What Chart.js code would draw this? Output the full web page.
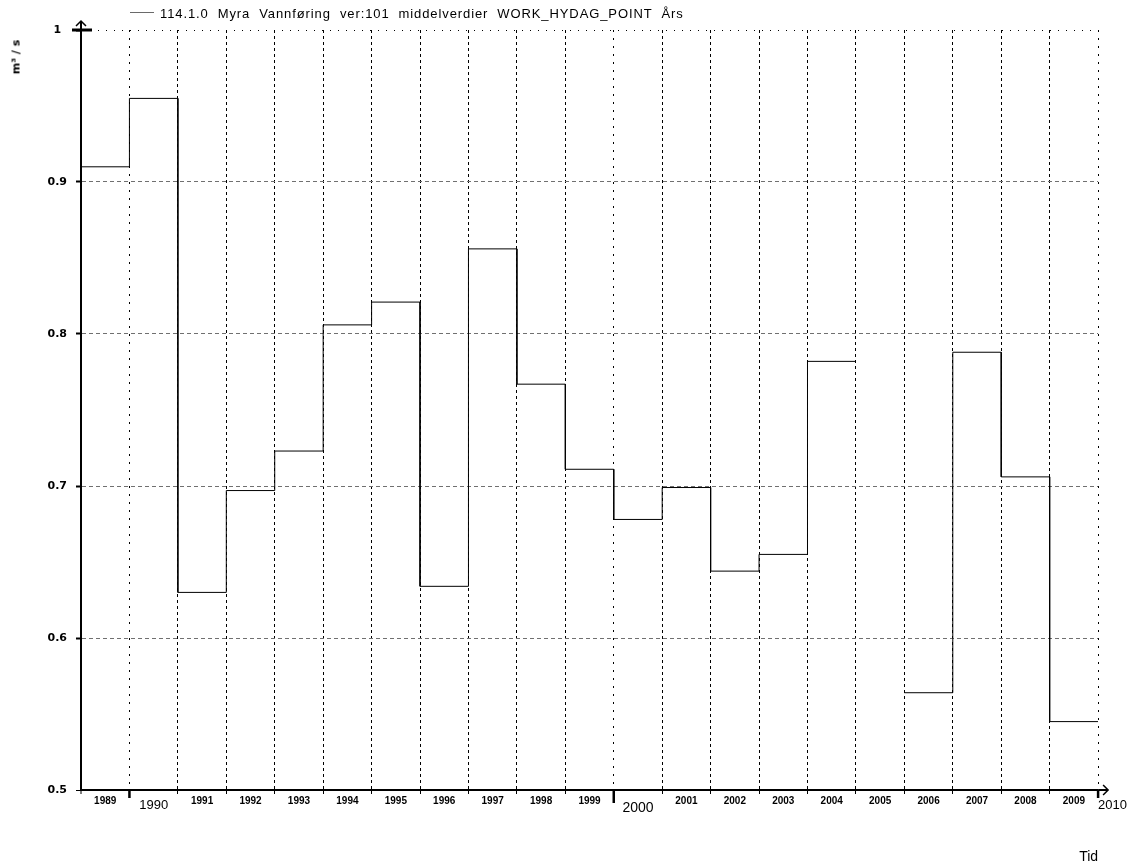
<!DOCTYPE html>
<html>
<head>
<meta charset="utf-8">
<title>114.1.0 Myra Vannføring</title>
<script src="https://cdn.jsdelivr.net/npm/chart.js@4/dist/chart.umd.min.js"></script>
<style>
  body { margin: 0; background: #fff; }
  #wrap { position: relative; width: 1128px; height: 867px; }
  #chart { position: absolute; left: 0; top: 0; }
  #legend-line { position: absolute; left: 130px; top: 12px; width: 24px; height: 1px; background: #6a6a6a; }
  #legend-text { position: absolute; left: 160px; top: 6px; font: 13px 'Liberation Sans', Arial, sans-serif;
                 letter-spacing: 0.9px; line-height: 15px; white-space: pre; color: #000; }
  #unit { position: absolute; left: 16px; top: 57px; font: bold 11px 'DejaVu Sans', sans-serif; white-space: pre;
          color: #000; transform: translate(-50%, -50%) rotate(-90deg); }
</style>
</head>
<body>
<div id="wrap">
  <canvas id="chart" width="1128" height="867"></canvas>
  <div id="legend-line"></div>
  <div id="legend-text">114.1.0  Myra  Vannføring  ver:101  middelverdier  WORK_HYDAG_POINT  Års</div>
  <div id="unit">m³ / s</div>
</div>
<script>
// Annual mean discharge, one value per year (2005 has no value)
const years = [1989, 1990, 1991, 1992, 1993, 1994, 1995, 1996, 1997, 1998, 1999,
               2000, 2001, 2002, 2003, 2004, 2005, 2006, 2007, 2008, 2009];
const flows = [0.910, 0.955, 0.630, 0.697, 0.723, 0.806, 0.821, 0.634, 0.856, 0.767, 0.711,
               0.678, 0.699, 0.644, 0.655, 0.782, null, 0.564, 0.788, 0.706, 0.545];
const yearLabels = years.map(String);
const lastYear = 2010;
const lastYearLabel = '2010';
const decadeYears = [1990, 2000, 2010];
const yTickLabels = ['0.5', '0.6', '0.7', '0.8', '0.9', '1'];
const yMin = 0.5, yMax = 1, yStep = 0.1;

// Each annual value is held constant over its year: one point at the start, one at the end.
const stepPoints = [];
years.forEach((yr, i) => {
  const v = flows[i];
  if (v === null) { stepPoints.push({ x: yr, y: null }); return; }
  stepPoints.push({ x: yr, y: v }, { x: yr + 1, y: v });
});

const isDecade = v => decadeYears.includes(v);
const isHalf = v => !Number.isInteger(v);

// Axis arrows and the heavier ticks at decades and at the top of the value axis
const axisDecor = {
  id: 'axisDecor',
  afterDraw(chart) {
    const { ctx, scales: { x, y } } = chart;
    const x0 = x.getPixelForValue(years[0]);
    const xr = x.getPixelForValue(lastYear);
    const yb = y.getPixelForValue(yMin);
    const yt = y.getPixelForValue(yMax);
    ctx.save();
    ctx.strokeStyle = '#000';
    ctx.lineCap = 'butt';
    // value axis extension + arrow
    ctx.lineWidth = 2;
    ctx.beginPath(); ctx.moveTo(x0, yt); ctx.lineTo(x0, yt - 9); ctx.stroke();
    ctx.lineWidth = 1.5;
    ctx.beginPath(); ctx.moveTo(x0 - 5, yt - 4); ctx.lineTo(x0, yt - 9); ctx.lineTo(x0 + 5, yt - 4); ctx.stroke();
    // heavy tick at the top value
    ctx.lineWidth = 3;
    ctx.beginPath(); ctx.moveTo(x0 - 9, yt); ctx.lineTo(x0 + 11, yt); ctx.stroke();
    // time axis extension + arrow
    ctx.lineWidth = 2;
    ctx.beginPath(); ctx.moveTo(xr, yb); ctx.lineTo(xr + 10, yb); ctx.stroke();
    ctx.lineWidth = 1.5;
    ctx.beginPath(); ctx.moveTo(xr + 5, yb - 5); ctx.lineTo(xr + 10, yb); ctx.lineTo(xr + 5, yb + 5); ctx.stroke();
    // decade ticks
    ctx.lineWidth = 2.5;
    decadeYears.forEach(d => {
      const px = x.getPixelForValue(d);
      const depth = d === 2000 ? 13 : 8;
      ctx.beginPath(); ctx.moveTo(px, yb); ctx.lineTo(px, yb + depth); ctx.stroke();
    });
    ctx.restore();
  }
};

new Chart(document.getElementById('chart'), {
  type: 'line',
  data: {
    datasets: [{
      label: '114.1.0 Myra Vannføring ver:101 middelverdier WORK_HYDAG_POINT Års',
      data: stepPoints,
      borderColor: '#000',
      borderWidth: 1,
      pointRadius: 0,
      tension: 0,
      spanGaps: false,
      fill: false
    }]
  },
  options: {
    responsive: false,
    animation: false,
    events: [],
    layout: { padding: { top: 30, right: 29, left: 0, bottom: 0 } },
    plugins: { legend: { display: false }, tooltip: { enabled: false } },
    scales: {
      x: {
        type: 'linear',
        position: 'bottom',
        min: years[0],
        max: lastYear,
        afterBuildTicks(scale) {
          const t = [];
          for (let yr = years[0]; yr <= lastYear; yr++) {
            t.push({ value: yr });
            if (yr < lastYear) t.push({ value: yr + 0.5 });
          }
          scale.ticks = t;
        },
        afterFit(scale) { scale.height = 77; },
        border: {
          display: true, color: '#000', width: 2,
          dash(ctx) {
            const v = ctx.tick ? ctx.tick.value : null;
            if (v !== null && isDecade(v)) return [2, 6];
            return [3, 3];
          }
        },
        grid: {
          drawOnChartArea: true,
          drawTicks: true,
          tickLength: 4,
          color(ctx) {
            const v = ctx.tick ? ctx.tick.value : null;
            if (v === null || isHalf(v) || v === years[0]) return 'rgba(0,0,0,0)';
            return '#000';
          },
          lineWidth(ctx) {
            const v = ctx.tick ? ctx.tick.value : null;
            if (v === null || isHalf(v) || v === years[0]) return 0;
            return 1;
          },
          tickColor: '#000',
          tickWidth(ctx) {
            const v = ctx.tick ? ctx.tick.value : null;
            if (v === null || isHalf(v)) return 0;
            return 1;
          }
        },
        ticks: {
          autoSkip: false,
          maxRotation: 0,
          minRotation: 0,
          padding: 1,
          color: '#000',
          callback(value) {
            if (value === lastYear) return ' '.repeat(8) + lastYearLabel;
            if (Number.isInteger(value)) return '';
            return yearLabels[years.indexOf(Math.floor(value))];
          },
          font(ctx) {
            const v = ctx.tick ? ctx.tick.value : null;
            if (v === 2000.5) return { family: "'Liberation Sans', Arial, sans-serif", size: 14, weight: 'normal', lineHeight: 1.86 };
            if (v === 1990.5 || v === lastYear) return { family: "'Liberation Sans', Arial, sans-serif", size: 13, weight: 'normal', lineHeight: 1.54 };
            return { family: "'Liberation Sans', Arial, sans-serif", size: 10, weight: 'bold', lineHeight: 1.2 };
          }
        },
        title: {
          display: true,
          text: 'Tid',
          align: 'end',
          color: '#000',
          font: { family: "'Liberation Sans', Arial, sans-serif", size: 14, lineHeight: 1.2 },
          padding: { top: 0, bottom: 1 }
        }
      },
      y: {
        type: 'linear',
        position: 'left',
        min: yMin,
        max: yMax,
        afterFit(scale) { scale.width = 81; },
        border: {
          display: true, color: '#000', width: 2,
          dash(ctx) {
            const v = ctx.tick ? ctx.tick.value : null;
            if (v !== null && Math.abs(v - yMax) < 1e-9) return [1, 7];
            return [4, 3];
          }
        },
        grid: {
          drawTicks: true,
          tickLength: 5,
          color(ctx) {
            const v = ctx.tick ? ctx.tick.value : null;
            if (v !== null && Math.abs(v - yMax) < 1e-9) return '#000';
            return '#707070';
          },
          lineWidth: 1,
          tickColor: '#000',
          tickWidth(ctx) {
            const v = ctx.tick ? ctx.tick.value : null;
            if (v !== null && Math.abs(v - yMin) < 1e-9) return 1;
            return 2;
          }
        },
        ticks: {
          stepSize: yStep,
          padding: 9,
          crossAlign: 'center',
          color: '#000',
          font: { family: "'DejaVu Sans', sans-serif", size: 11, weight: 'bold' },
          callback(value, index) { return yTickLabels[index]; }
        }
      }
    }
  },
  plugins: [axisDecor]
});
</script>
</body>
</html>
